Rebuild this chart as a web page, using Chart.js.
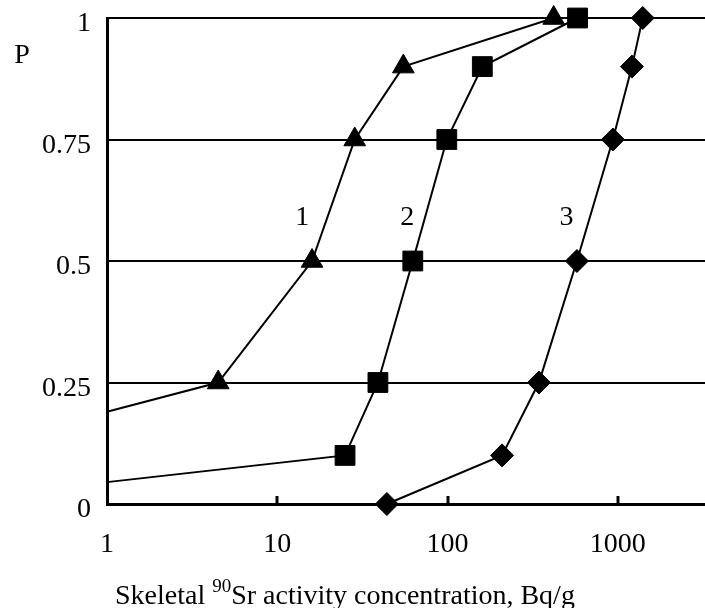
<!DOCTYPE html>
<html>
<head>
<meta charset="utf-8">
<script src="https://cdn.jsdelivr.net/npm/chart.js@4/dist/chart.umd.min.js"></script>
<style>
  html, body { margin: 0; padding: 0; background: #fff; overflow: hidden; }
  #wrap { width: 705px; height: 608px; position: relative; }
  #chart { display: block; }
</style>
</head>
<body>
<div id="wrap"><canvas id="chart"></canvas></div>
<script>
// Probability P vs skeletal 90Sr activity concentration (Bq/g), three curves
const xTickValues = [1, 10, 100, 1000];
const pTickStep = 0.25;

const curve1X = [1, 4.5, 16, 28.5, 55, 420];
const curve1P = [0.19, 0.25, 0.5, 0.75, 0.9, 1];

const curve2X = [1, 25, 39, 62.5, 99, 160, 580];
const curve2P = [0.045, 0.1, 0.25, 0.5, 0.75, 0.9, 1];

const curve3X = [44, 209, 344, 575, 935, 1210, 1400];
const curve3P = [0, 0.1, 0.25, 0.5, 0.75, 0.9, 1];

// curve numbers written next to the lines (data units)
const curveNames = ['1', '2', '3'];
const curveNameX = [14, 58, 500];
const curveNameP = [0.59, 0.59, 0.59];

const FONT = '"Liberation Serif", "Times New Roman", serif';

function toPoints(xs, ps) {
    return xs.map((v, i) => ({ x: v, y: ps[i] }));
}

// no marker where the line starts on the left axis
function radii(xs, r) {
    return xs.map(v => (v === 1 ? 0 : r));
}

function makeDataset(xs, ps, style, r) {
    return {
        data: toPoints(xs, ps),
        borderColor: '#000',
        borderWidth: 2,
        backgroundColor: '#000',
        pointStyle: style,
        pointRadius: radii(xs, r),
        pointBorderWidth: 1,
        pointBorderColor: '#000',
        pointBackgroundColor: '#000',
        tension: 0,
        clip: false
    };
}

const extraText = {
    id: 'extraText',
    afterDraw(chart) {
        const ctx = chart.ctx;
        const x = chart.scales.x;
        const y = chart.scales.y;
        ctx.save();

        // small inward ticks on the x axis
        ctx.strokeStyle = '#000';
        ctx.lineWidth = 3;
        xTickValues.slice(1).forEach(v => {
            const px = Math.round(x.getPixelForValue(v));
            ctx.beginPath();
            ctx.moveTo(px, y.bottom);
            ctx.lineTo(px, y.bottom - 8);
            ctx.stroke();
        });

        ctx.fillStyle = '#000';
        ctx.font = '28px ' + FONT;
        ctx.textAlign = 'center';
        ctx.textBaseline = 'middle';
        curveNames.forEach((n, i) => {
            ctx.fillText(n, x.getPixelForValue(curveNameX[i]), y.getPixelForValue(curveNameP[i]));
        });

        // y axis name
        ctx.fillText('P', 22, 56);

        // x axis title with superscript mass number
        ctx.textAlign = 'left';
        ctx.textBaseline = 'alphabetic';
        const base = 604;
        let cx = 115;
        ctx.font = '28px ' + FONT;
        const a = 'Skeletal ';
        ctx.fillText(a, cx, base);
        cx += ctx.measureText(a).width;
        ctx.font = '19px ' + FONT;
        ctx.fillText('90', cx, base - 12);
        cx += ctx.measureText('90').width;
        ctx.font = '28px ' + FONT;
        ctx.fillText('Sr activity concentration, Bq/g', cx, base);

        ctx.restore();
    }
};

new Chart(document.getElementById('chart'), {
    type: 'line',
    data: {
        datasets: [
            makeDataset(curve1X, curve1P, 'triangle', 12.5),
            makeDataset(curve2X, curve2P, 'rect', 14),
            makeDataset(curve3X, curve3P, 'rectRot', 11.5)
        ]
    },
    options: {
        responsive: true,
        maintainAspectRatio: false,
        animation: false,
        layout: { autoPadding: false, padding: { top: 18, right: 0, left: 0, bottom: 0 } },
        plugins: {
            legend: { display: false },
            tooltip: { enabled: false }
        },
        scales: {
            x: {
                type: 'logarithmic',
                min: 1,
                max: 3250,
                afterFit: scale => {
                    scale.height = 104;
                    scale.paddingLeft = 0;
                    scale.paddingRight = 0;
                },
                afterBuildTicks: scale => {
                    scale.ticks = xTickValues.map(v => ({ value: v }));
                },
                grid: { display: false, drawTicks: false },
                border: { display: true, color: '#000', width: 3 },
                ticks: {
                    color: '#000',
                    font: { family: FONT, size: 28 },
                    padding: 24,
                    maxRotation: 0,
                    autoSkip: false,
                    callback: v => String(v)
                }
            },
            y: {
                type: 'linear',
                min: 0,
                max: 1,
                afterFit: scale => {
                    scale.width = 107;
                    scale.paddingTop = 0;
                    scale.paddingBottom = 0;
                },
                grid: { color: '#000', lineWidth: 2, drawTicks: false },
                border: { display: true, color: '#000', width: 3 },
                ticks: {
                    stepSize: pTickStep,
                    color: '#000',
                    font: { family: FONT, size: 28 },
                    padding: 16,
                    labelOffset: 6,
                    callback: v => String(v)
                }
            }
        }
    },
    plugins: [extraText]
});
</script>
</body>
</html>
